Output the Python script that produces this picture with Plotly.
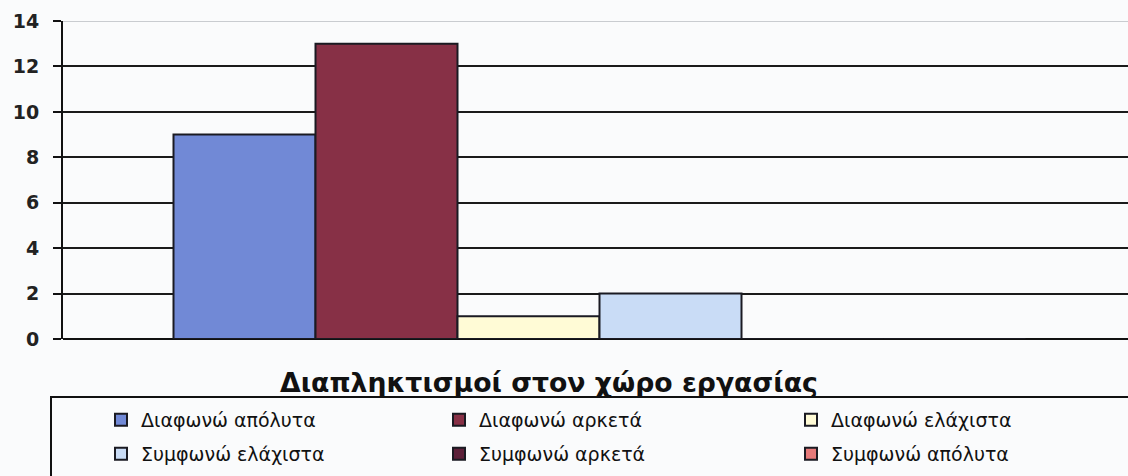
import plotly.graph_objects as go

# Survey responses for a single question
category = ["Διαπληκτισμοί στον χώρο εργασίας"]
series_names = [
    "Διαφωνώ απόλυτα",
    "Διαφωνώ αρκετά",
    "Διαφωνώ ελάχιστα",
    "Συμφωνώ ελάχιστα",
    "Συμφωνώ αρκετά",
    "Συμφωνώ απόλυτα",
]
series_values = [9, 13, 1, 2, 0, 0]
series_colors = ["#7189d6", "#873046", "#fffbd6", "#c9dcf6", "#5c2039", "#e67a7a"]
y_ticks = [0, 2, 4, 6, 8, 10, 12, 14]

W, H = 1128, 476
ML, MR, MT, MB = 63, 0, 21, 137
PW = W - ML - MR
PH = H - MT - MB


def px_x(px):
    return (px - ML) / PW


def px_y(py):
    return (H - MB - py) / PH


# legend grid: three columns, two rows (pixel positions of each entry)
legend_cols = [101, 439, 791]
legend_rows = [420, 454]

fig = go.Figure()
legend_layouts = {}
font_legend = dict(family="DejaVu Sans", size=19, color="#111111")
for i, (name, val, col) in enumerate(zip(series_names, series_values, series_colors)):
    key = "legend" if i == 0 else f"legend{i + 1}"
    fig.add_trace(go.Bar(
        x=[0], y=[val], name=name,
        marker=dict(color=col, line=dict(color="#1a1a22", width=2)),
        legend=key,
    ))
    legend_layouts[key] = dict(
        orientation="h", xanchor="left", yanchor="middle",
        x=px_x(legend_cols[i % 3]), y=px_y(legend_rows[i // 3]),
        bgcolor="rgba(0,0,0,0)", borderwidth=0, font=font_legend,
        itemclick=False, itemdoubleclick=False,
    )

shift = -4 / PW
fig.update_layout(
    width=W, height=H,
    margin=dict(l=ML, r=MR, t=MT, b=MB, pad=0),
    paper_bgcolor="#fafbfc", plot_bgcolor="#fafbfc",
    barmode="group", bargap=0.2, bargroupgap=0,
    showlegend=True,
    xaxis=dict(range=[-0.5 + shift, 0.5 + shift], showticklabels=False,
               showgrid=False, zeroline=False, showline=False, ticks=""),
    yaxis=dict(range=[0, 14], tickvals=y_ticks, ticks="outside", ticklen=8,
               tickwidth=1.5, tickcolor="#111111",
               showline=True, linecolor="#111111", linewidth=2,
               showgrid=True, gridcolor="#1a1a1a", gridwidth=1.5,
               zeroline=True, zerolinecolor="#111111", zerolinewidth=2,
               tickfont=dict(family="DejaVu Sans", size=19, color="#222222",
                             weight="bold"),
               ticklabelstandoff=10),
    annotations=[dict(
        text="<b>Διαπληκτισμοί στον χώρο εργασίας</b>",
        xref="paper", yref="paper", x=px_x(549), y=px_y(382),
        xanchor="center", yanchor="middle", showarrow=False,
        font=dict(family="DejaVu Sans", size=26.7, color="#111111"),
    )],
    shapes=[
        # light top border of the plotting area
        dict(type="line", xref="paper", yref="y", x0=0, x1=1, y0=14, y1=14,
             line=dict(color="#b8bcc2", width=1.5)),
        # box around the legend
        dict(type="rect", xref="paper", yref="paper",
             x0=px_x(51), x1=px_x(1140), y0=px_y(490), y1=px_y(397),
             line=dict(color="#111111", width=2), fillcolor="rgba(0,0,0,0)"),
    ],
)
fig.update_layout(**legend_layouts)

fig.write_html("out.html")
